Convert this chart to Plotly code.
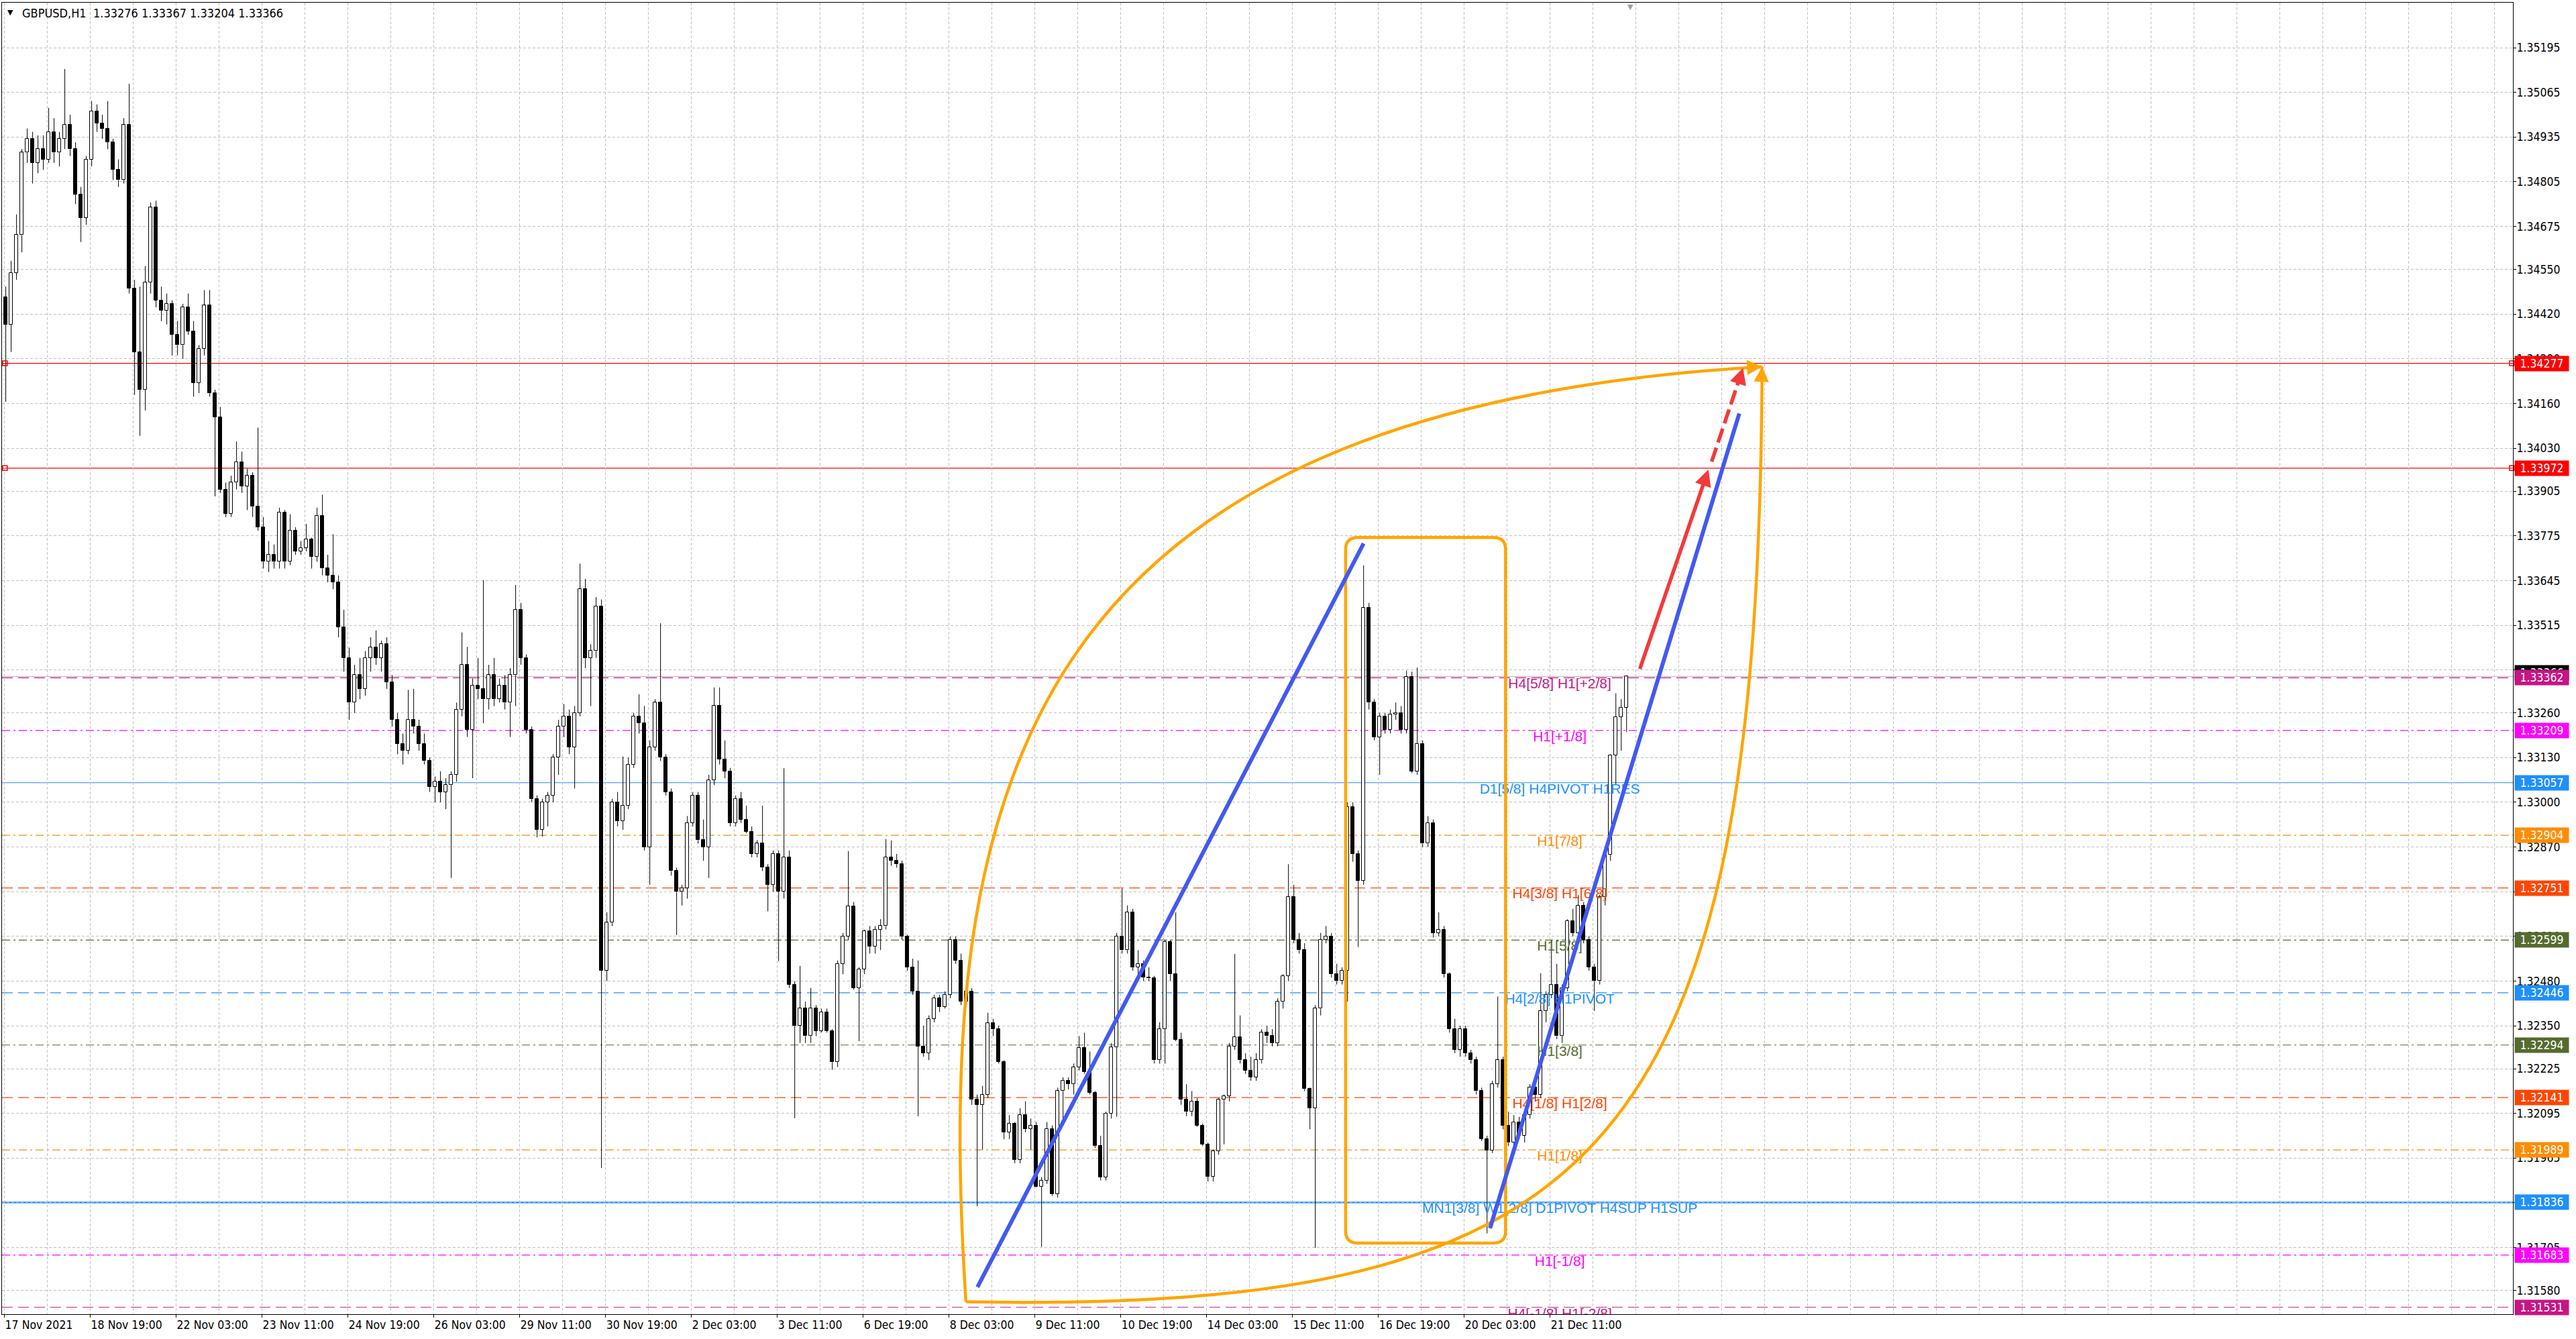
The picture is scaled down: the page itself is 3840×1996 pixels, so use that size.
import numpy as np
import plotly.graph_objects as go

# GBPUSD H1, candles grouped by 2 hours.
# prices are points above 1.30000 (1 point = 0.00001)
opens = [4470, 4390, 4540, 4650, 4890, 4930, 4860, 4900, 4870, 4950, 4890, 4930, 4970, 4900, 4768, 4700,
         4870, 5010, 4975, 4960, 4920, 4840, 4810, 4970, 4495, 4310, 4200, 4512, 4730, 4460, 4430, 4450,
         4360, 4330, 4440, 4370, 4220, 4320, 4445, 4190, 4120, 3910, 3840, 3930, 3990, 3920, 3950, 3860,
         3800, 3700, 3720, 3700, 3843, 3700, 3790, 3730, 3740, 3765, 3715, 3833, 3680, 3660, 3640, 3510,
         3420, 3290, 3370, 3330, 3420, 3450, 3420, 3460, 3350, 3240, 3170, 3150, 3240, 3220, 3170, 3120,
         3045, 3060, 3030, 3050, 3080, 3270, 3400, 3210, 3340, 3330, 3300, 3370, 3300, 3340, 3290, 3370,
         3560, 3420, 3210, 3009, 2920, 3000, 3020, 3130, 3220, 3250, 3160, 3260, 3620, 3420, 3440, 3570,
         2510, 2650, 3000, 2945, 2990, 3110, 3250, 3230, 2870, 3160, 3290, 3130, 3030, 2800, 2740, 2750,
         2940, 3020, 2890, 2870, 3064, 3280, 3125, 3090, 2940, 3010, 2950, 2915, 2850, 2880, 2810, 2760,
         2850, 2740, 2840, 2470, 2350, 2400, 2320, 2400, 2335, 2390, 2335, 2244, 2530, 2610, 2697, 2460,
         2515, 2625, 2580, 2630, 2640, 2840, 2830, 2820, 2610, 2520, 2450, 2290, 2270, 2370, 2430, 2405,
         2440, 2600, 2540, 2420, 2450, 2135, 2120, 2150, 2357, 2340, 2245, 2040, 2065, 1960, 2090, 2050,
         2060, 1882, 1900, 2050, 1860, 2160, 2190, 2180, 2230, 2285, 2215, 2155, 2000, 1910, 2095, 2287,
         2610, 2570, 2680, 2520, 2530, 2490, 2488, 2250, 2340, 2595, 2500, 2310, 2135, 2100, 2130, 2060,
         2005, 1912, 1985, 2135, 2145, 2290, 2317, 2250, 2220, 2200, 2250, 2330, 2320, 2300, 2420, 2495,
         2724, 2600, 2570, 2166, 2110, 2400, 2600, 2610, 2500, 2480, 2510, 2986, 2850, 2772, 3565, 3290,
         3190, 3250, 3210, 3255, 3260, 3210, 3365, 3090, 3170, 2880, 2940, 2620, 2630, 2500, 2340, 2280,
         2340, 2270, 2250, 2160, 2021, 1987, 2180, 2250, 2060, 2010, 2070, 2030, 2090, 2170, 2150, 2393,
         2440, 2470, 2320, 2460, 2655, 2620, 2700, 2600, 2520, 2480, 2724, 2848, 3137, 3248, 3276]
highs = [4500, 4575, 4710, 4900, 4960, 4950, 4940, 4940, 5020, 4990, 4950, 5133, 5000, 4920, 4790, 4880,
         5040, 5030, 5000, 5040, 4930, 4870, 4990, 5090, 4520, 4500, 4560, 4745, 4750, 4500, 4480, 4460,
         4400, 4450, 4480, 4400, 4330, 4490, 4490, 4200, 4150, 3930, 3950, 4050, 4020, 3970, 3960, 4090,
         3830, 3760, 3750, 3857, 3850, 3838, 3800, 3760, 3810, 3770, 3857, 3895, 3720, 3780, 3660, 3560,
         3450, 3400, 3420, 3440, 3480, 3500, 3470, 3480, 3370, 3260, 3200, 3327, 3330, 3240, 3200, 3130,
         3075, 3090, 3070, 3090, 3290, 3494, 3452, 3360, 3420, 3646, 3400, 3420, 3360, 3370, 3390, 3632,
         3580, 3430, 3220, 3020, 3010, 3030, 3140, 3240, 3286, 3270, 3280, 3694, 3650, 3460, 3597, 3590,
         2680, 3010, 3030, 3133, 3130, 3260, 3314, 3280, 3180, 3300, 3521, 3140, 3040, 2810, 2760, 2960,
         3030, 3030, 2950, 3080, 3334, 3334, 3180, 3100, 3020, 3030, 2990, 2930, 2890, 2990, 2820, 2860,
         2860, 3099, 2860, 2480, 2524, 2420, 2460, 2410, 2400, 2400, 2340, 2540, 2620, 2858, 2710, 2520,
         2630, 2640, 2640, 2660, 2893, 2889, 2850, 2830, 2615, 2545, 2540, 2350, 2380, 2440, 2440, 2450,
         2610, 2610, 2560, 2470, 2460, 2150, 2175, 2388, 2370, 2350, 2250, 2090, 2070, 2110, 2130, 2080,
         2070, 1910, 2070, 2060, 2170, 2200, 2200, 2240, 2320, 2330, 2275, 2160, 2030, 2100, 2300, 2620,
         2749, 2700, 2690, 2570, 2540, 2520, 2495, 2360, 2600, 2600, 2680, 2330, 2180, 2160, 2140, 2065,
         2010, 1990, 2140, 2150, 2300, 2559, 2380, 2270, 2260, 2270, 2340, 2350, 2340, 2430, 2500, 2820,
         2760, 2620, 2590, 2170, 2410, 2620, 2640, 2620, 2530, 2520, 3000, 3000, 2860, 3689, 3580, 3300,
         3260, 3260, 3270, 3290, 3280, 3383, 3380, 3392, 3180, 2960, 2950, 2680, 2640, 2505, 2370, 2350,
         2350, 2280, 2260, 2170, 2030, 2190, 2435, 2260, 2100, 2090, 2085, 2100, 2180, 2190, 2503, 2450,
         2600, 2530, 2470, 2660, 2690, 2730, 2710, 2610, 2530, 2731, 2850, 3140, 3317, 3300, 3367]
lows = [4165, 4310, 4520, 4600, 4860, 4800, 4830, 4840, 4860, 4860, 4850, 4900, 4880, 4740, 4630, 4680,
        4850, 4950, 4930, 4900, 4810, 4790, 4800, 4480, 4185, 4066, 4140, 4480, 4440, 4400, 4390, 4300,
        4300, 4290, 4360, 4180, 4190, 4300, 4180, 3890, 3900, 3830, 3830, 3910, 3900, 3850, 3830, 3790,
        3680, 3670, 3680, 3680, 3680, 3690, 3720, 3720, 3730, 3680, 3700, 3660, 3640, 3620, 3480, 3380,
        3240, 3260, 3300, 3310, 3380, 3400, 3380, 3330, 3220, 3140, 3110, 3140, 3200, 3150, 3110, 3030,
        3000, 3000, 2980, 2780, 3060, 3250, 3190, 3070, 3300, 3230, 3270, 3280, 3290, 3270, 3190, 3280,
        3400, 3200, 3000, 2898, 2900, 2930, 3000, 3080, 3190, 3140, 3040, 3250, 3390, 3280, 3420, 1936,
        2480, 2640, 2930, 2920, 2980, 3100, 3200, 2860, 2760, 3150, 3120, 3020, 2787, 2614, 2700, 2720,
        2930, 2880, 2830, 2780, 3050, 3110, 3070, 2930, 2930, 2940, 2910, 2840, 2840, 2800, 2683, 2740,
        2538, 2720, 2460, 2081, 2300, 2300, 2300, 2320, 2330, 2330, 2222, 2230, 2500, 2600, 2455, 2305,
        2500, 2560, 2560, 2570, 2630, 2815, 2810, 2600, 2510, 2440, 2087, 2260, 2250, 2360, 2390, 2400,
        2430, 2530, 2410, 2410, 2120, 1825, 1990, 2140, 2320, 2240, 2020, 2020, 1950, 1950, 2040, 1990,
        1880, 1707, 1890, 1855, 1850, 2070, 2165, 2150, 2220, 2210, 2150, 1995, 1900, 1900, 2080, 2085,
        2560, 2560, 2510, 2500, 2480, 2480, 2240, 2240, 2240, 2480, 2305, 2120, 2087, 2087, 2056, 2000,
        1897, 1897, 1975, 2005, 2130, 2280, 2240, 2210, 2190, 2190, 2240, 2300, 2290, 2290, 2400, 2480,
        2590, 2560, 2160, 2049, 1704, 2380, 2590, 2490, 2470, 2470, 2420, 2827, 2579, 2760, 3270, 3180,
        3080, 3200, 3200, 3240, 3200, 3200, 3085, 3080, 2869, 2870, 2607, 2610, 2490, 2330, 2270, 2260,
        2260, 2240, 2150, 2015, 1746, 1980, 2170, 2049, 2000, 2000, 2020, 2010, 2080, 2130, 2140, 2360,
        2430, 2311, 2300, 2450, 2610, 2600, 2590, 2510, 2393, 2470, 2700, 2830, 3050, 3150, 3204]
closes = [4390, 4540, 4650, 4890, 4930, 4860, 4900, 4870, 4950, 4890, 4930, 4970, 4900, 4768, 4700, 4870,
          5010, 4975, 4960, 4920, 4840, 4810, 4970, 4495, 4310, 4200, 4512, 4730, 4460, 4430, 4450, 4360,
          4330, 4440, 4370, 4220, 4320, 4445, 4190, 4120, 3910, 3840, 3930, 3990, 3920, 3950, 3860, 3800,
          3700, 3720, 3700, 3843, 3700, 3790, 3730, 3740, 3765, 3715, 3833, 3680, 3660, 3640, 3510, 3420,
          3290, 3370, 3330, 3420, 3450, 3420, 3460, 3350, 3240, 3170, 3150, 3240, 3220, 3170, 3120, 3045,
          3060, 3030, 3050, 3080, 3270, 3400, 3210, 3340, 3330, 3300, 3370, 3300, 3340, 3290, 3370, 3560,
          3420, 3210, 3009, 2920, 3000, 3020, 3130, 3220, 3250, 3160, 3260, 3620, 3420, 3440, 3570, 2510,
          2650, 3000, 2945, 2990, 3110, 3250, 3230, 2870, 3160, 3290, 3130, 3030, 2800, 2740, 2750, 2940,
          3020, 2890, 2870, 3064, 3280, 3125, 3090, 2940, 3010, 2950, 2915, 2850, 2880, 2810, 2760, 2850,
          2740, 2840, 2470, 2350, 2400, 2320, 2400, 2335, 2390, 2335, 2244, 2530, 2610, 2697, 2460, 2515,
          2625, 2580, 2630, 2640, 2840, 2830, 2820, 2610, 2520, 2450, 2290, 2270, 2370, 2430, 2405, 2440,
          2600, 2540, 2420, 2450, 2135, 2120, 2150, 2357, 2340, 2245, 2040, 2065, 1960, 2090, 2050, 2060,
          1882, 1900, 2050, 1860, 2160, 2190, 2180, 2230, 2285, 2215, 2155, 2000, 1910, 2095, 2287, 2610,
          2570, 2680, 2520, 2530, 2490, 2488, 2250, 2340, 2595, 2500, 2310, 2135, 2100, 2130, 2060, 2005,
          1912, 1985, 2135, 2145, 2290, 2317, 2250, 2220, 2200, 2250, 2330, 2320, 2300, 2420, 2495, 2724,
          2600, 2570, 2166, 2110, 2400, 2600, 2610, 2500, 2480, 2510, 2986, 2850, 2772, 3565, 3290, 3190,
          3250, 3210, 3255, 3260, 3210, 3365, 3090, 3170, 2880, 2940, 2620, 2630, 2500, 2340, 2280, 2340,
          2270, 2250, 2160, 2021, 1987, 2180, 2250, 2060, 2010, 2070, 2030, 2090, 2170, 2150, 2393, 2440,
          2470, 2320, 2460, 2655, 2620, 2700, 2600, 2520, 2480, 2724, 2848, 3137, 3248, 3276, 3366]

# time axis: hourly bar index of each label
label_bars = [0, 32, 64, 96, 128, 160, 192, 224, 256, 288, 320, 352, 384, 416, 448, 480, 512, 544, 576]
time_labels = ['17 Nov 2021', '18 Nov 19:00', '22 Nov 03:00', '23 Nov 11:00', '24 Nov 19:00',
               '26 Nov 03:00', '29 Nov 11:00', '30 Nov 19:00', '2 Dec 03:00', '3 Dec 11:00',
               '6 Dec 19:00', '8 Dec 03:00', '9 Dec 11:00', '10 Dec 19:00', '14 Dec 03:00',
               '15 Dec 11:00', '16 Dec 19:00', '20 Dec 03:00', '21 Dec 11:00']
price_ticks = [1.35195, 1.35065, 1.34935, 1.34805, 1.34675, 1.34550, 1.34420, 1.34290, 1.34160,
               1.34030, 1.33905, 1.33775, 1.33645, 1.33515, 1.33385, 1.33260, 1.33130, 1.33000,
               1.32870, 1.32740, 1.32610, 1.32480, 1.32350, 1.32225, 1.32095, 1.31965, 1.31835,
               1.31705, 1.31580]

# horizontal levels
level_prices = [1.34277, 1.33972, 1.33362, 1.33209, 1.33057, 1.32904, 1.32751, 1.32599,
                1.32446, 1.32294, 1.32141, 1.31989, 1.31836, 1.31683, 1.31531]
level_names = ['', '', 'H4[5/8] H1[+2/8]', 'H1[+1/8]', 'D1[5/8] H4PIVOT H1RES', 'H1[7/8]',
               'H4[3/8] H1[6/8]', 'H1[5/8]', 'H4[2/8] H1PIVOT', 'H1[3/8]', 'H4[1/8] H1[2/8]',
               'H1[1/8]', 'MN1[3/8] W1[2/8] D1PIVOT H4SUP H1SUP', 'H1[-1/8]', 'H4[-1/8] H1[-2/8]']
bid_price = 1.33366
title_text = 'GBPUSD,H1\u00a0\u00a01.33276 1.33367 1.33204 1.33366'

# hand drawn objects (hourly bar index, price)
trend_1 = [(362.6, 1.31590), (506.5, 1.33753)]
trend_2 = [(553.6, 1.31761), (646.5, 1.34131)]
arrow_solid = [(609.3, 1.33385), (635.0, 1.33968)]
arrow_dash = [(636.2, 1.33991), (647.9, 1.34264)]
box_x = [499.8, 559.4]
box_y = [1.31718, 1.33770]
leaf_upper = [(358.3, 1.31547), (346.0, 1.33041), (377.9, 1.34140), (655.0, 1.34267)]
leaf_lower = [(358.3, 1.31547), (598.3, 1.31513), (653.5, 1.31991), (655.0, 1.34267)]

# ---- styles
DASH = '16px,8px'
DDOT = '12px,5px,3px,5px'
level_colors = ['#FF0000', '#FF0000', '#C71585', '#FF00FF', '#1E90FF', '#FF8C00', '#FF4500', '#556B2F',
                '#1E90FF', '#556B2F', '#FF4500', '#FF8C00', '#1E90FF', '#FF00FF', '#C71585']
level_dash = ['solid', 'solid', DASH, DDOT, 'solid', DDOT, DASH, DDOT, DASH, DDOT, DASH, DDOT,
              'solid', DDOT, DASH]
level_width = [1.2, 1.2, 1.2, 1.2, 1.2, 1.2, 1.2, 1.2, 1.2, 1.2, 1.2, 1.2, 2.5, 1.2, 1.2]
AX_FONT = 'DejaVu Sans Condensed, Liberation Sans'
GRID = '#C0C0C0'
ORANGE = '#FFA500'
BLUE = '#4259F2'
RED = '#F23A3A'

PT = 1e-5
o = 1.3 + np.array(opens) * PT
h = 1.3 + np.array(highs) * PT
l = 1.3 + np.array(lows) * PT
c = 1.3 + np.array(closes) * PT
x_bar = np.arange(len(o)) * 2 + 0.5     # 2-hour candle on the hourly axis

top = np.maximum(o, c)
bot = np.minimum(o, c)
wx, wy = [], []
for xi, hi, ti, bi, li in zip(x_bar, h, top, bot, l):
    wx += [xi, xi, None, xi, xi, None]
    wy += [hi, ti, None, bi, li, None]

fig = go.Figure()

# wicks (upper and lower part only, body is drawn on top)
fig.add_trace(go.Scatter(x=wx, y=wy, mode='lines', line=dict(color='black', width=1),
                         hoverinfo='skip'))
# bodies
fig.add_trace(go.Bar(
    x=x_bar, y=np.maximum(top - bot, 0.000015), base=bot, width=1.3,
    marker=dict(color=['white' if ci >= oi else 'black' for oi, ci in zip(o, c)],
                line=dict(color='black', width=1)),
    hoverinfo='skip'))

# level names in the middle of the right part, clipped by the plot area
names = [n for n in level_names if n]
fig.add_trace(go.Scatter(
    x=[579.6] * len(names),
    y=[p for p, n in zip(level_prices, level_names) if n],
    mode='text', text=names, textposition='bottom center',
    textfont=dict(family='Liberation Sans', size=21,
                  color=[cl for cl, n in zip(level_colors, level_names) if n]),
    cliponaxis=True, hoverinfo='skip'))

# small anchor squares on the red lines
fig.add_trace(go.Scatter(
    x=[0.2, 0.2, 934.4, 934.4], y=[level_prices[0], level_prices[1], level_prices[0], level_prices[1]],
    mode='markers', marker=dict(symbol='square-open', size=7, color='#FF0000', line=dict(width=1.5)),
    cliponaxis=False, hoverinfo='skip'))

shapes = []
# bid line
shapes.append(dict(type='line', xref='paper', x0=0, x1=1, yref='y', y0=bid_price, y1=bid_price,
                   line=dict(color='#B4B4B4', width=1), layer='between'))
for p, cl, d, w in zip(level_prices, level_colors, level_dash, level_width):
    shapes.append(dict(type='line', xref='paper', x0=0, x1=1, yref='y', y0=p, y1=p,
                       line=dict(color=cl, width=w, dash=d), layer='between'))

# orange rounded box
x0, x1 = box_x
y0, y1 = box_y
rx, ry = 4.5, 0.00035
box_path = (f'M {x0 + rx},{y1} L {x1 - rx},{y1} Q {x1},{y1} {x1},{y1 - ry} '
            f'L {x1},{y0 + ry} Q {x1},{y0} {x1 - rx},{y0} L {x0 + rx},{y0} '
            f'Q {x0},{y0} {x0},{y0 + ry} L {x0},{y1 - ry} Q {x0},{y1} {x0 + rx},{y1} Z')
shapes.append(dict(type='path', path=box_path, xref='x', yref='y',
                   line=dict(color=ORANGE, width=4.5), layer='above'))


def bezier(pts):
    (a, b), (c1, c2), (d1, d2), (e1, e2) = pts
    return f'M {a},{b} C {c1},{c2} {d1},{d2} {e1},{e2}'


for curve in (leaf_upper, leaf_lower):
    shapes.append(dict(type='path', path=bezier(curve), xref='x', yref='y',
                       line=dict(color=ORANGE, width=4.5), layer='above'))

for (xa, ya), (xb, yb) in (trend_1, trend_2):
    shapes.append(dict(type='line', xref='x', yref='y', x0=xa, y0=ya, x1=xb, y1=yb,
                       line=dict(color=BLUE, width=6), layer='above'))

# dashed red part of the forecast arrow
(xa, ya), (xb, yb) = arrow_dash
shapes.append(dict(type='line', xref='x', yref='y', x0=xa, y0=ya,
                   x1=xa + (xb - xa) * 0.86, y1=ya + (yb - ya) * 0.86,
                   line=dict(color=RED, width=5.5, dash='22px,8px'), layer='above'))

annotations = []
# solid red arrow
(xa, ya), (xb, yb) = arrow_solid
annotations.append(dict(x=xb, y=yb, ax=xa, ay=ya, xref='x', yref='y', axref='x', ayref='y',
                        text='', showarrow=True, arrowhead=2, arrowsize=0.9, arrowwidth=5.5,
                        arrowcolor=RED))
# head of the dashed arrow
(xa, ya), (xb, yb) = arrow_dash
annotations.append(dict(x=xb, y=yb, ax=-6, ay=19, xref='x', yref='y',
                        text='', showarrow=True, arrowhead=2, arrowsize=0.9, arrowwidth=5.5,
                        arrowcolor=RED))
# heads where the two orange curves meet
tip_x, tip_y = leaf_upper[-1]
annotations.append(dict(x=tip_x, y=tip_y, ax=-20, ay=1, xref='x', yref='y',
                        text='', showarrow=True, arrowhead=2, arrowsize=1, arrowwidth=4.5,
                        arrowcolor=ORANGE))
annotations.append(dict(x=tip_x, y=tip_y, ax=-1, ay=20, xref='x', yref='y',
                        text='', showarrow=True, arrowhead=2, arrowsize=1, arrowwidth=4.5,
                        arrowcolor=ORANGE))

# price labels on the right axis
annotations.append(dict(xref='paper', x=1, xanchor='left', xshift=2, yref='y', y=bid_price,
                        yshift=5, text=f'{bid_price:.5f}', showarrow=False, bgcolor='black',
                        font=dict(family=AX_FONT, size=17.5, color='white'),
                        width=78, height=20, borderpad=1))
for p, cl in zip(level_prices, level_colors):
    annotations.append(dict(xref='paper', x=1, xanchor='left', xshift=2, yref='y', y=p,
                            text=f'{p:.5f}', showarrow=False, bgcolor=cl,
                            font=dict(family=AX_FONT, size=17.5, color='white'),
                            width=78, height=20, borderpad=1))

# chart title and chart shift marker
annotations.append(dict(xref='paper', yref='paper', x=0, y=1, xanchor='left', yanchor='middle',
                        xshift=6, yshift=-14, text='\u25bc', showarrow=False,
                        font=dict(family='DejaVu Sans', size=11, color='black')))
annotations.append(dict(xref='paper', yref='paper', x=0, y=1, xanchor='left', yanchor='middle',
                        xshift=28, yshift=-15, text=title_text, showarrow=False,
                        font=dict(family=AX_FONT, size=18, color='black')))
annotations.append(dict(xref='x', yref='paper', x=606, y=1, yanchor='top', yshift=2,
                        text='\u25bc', showarrow=False,
                        font=dict(family='DejaVu Sans', size=11, color='#A0A0A0')))

fig.update_layout(
    width=3840, height=1996,
    margin=dict(l=3, r=94, t=4, b=37),
    paper_bgcolor='white', plot_bgcolor='white',
    showlegend=False, bargap=0,
    shapes=shapes, annotations=annotations,
)
fig.update_xaxes(
    range=[-0.9, 934.8], tickmode='array', tickvals=label_bars, ticktext=time_labels,
    ticks='outside', ticklen=4, tickcolor='black', ticklabelposition='outside right',
    tickfont=dict(family=AX_FONT, size=17.5, color='black'),
    showgrid=True, gridcolor=GRID, griddash='4px,3px', gridwidth=1,
    minor=dict(tickmode='linear', tick0=0, dtick=16, showgrid=True, gridcolor=GRID,
               griddash='4px,3px', gridwidth=1),
    showline=True, linecolor='black', linewidth=1, mirror=True, zeroline=False,
)
fig.update_yaxes(
    range=[1.31511, 1.35326], side='right', tickmode='array', tickvals=price_ticks,
    ticktext=[f'{v:.5f}' for v in price_ticks],
    ticks='outside', ticklen=4, tickcolor='black', ticklabelstandoff=-3,
    tickfont=dict(family=AX_FONT, size=17.5, color='black'),
    showgrid=True, gridcolor=GRID, griddash='4px,3px', gridwidth=1,
    showline=True, linecolor='black', linewidth=1, mirror=True, zeroline=False,
)

# the page has no body margin in the reference screenshot
fig.write_html("out.html", config={'displayModeBar': False},
               post_script="document.body.style.margin = '0';")
